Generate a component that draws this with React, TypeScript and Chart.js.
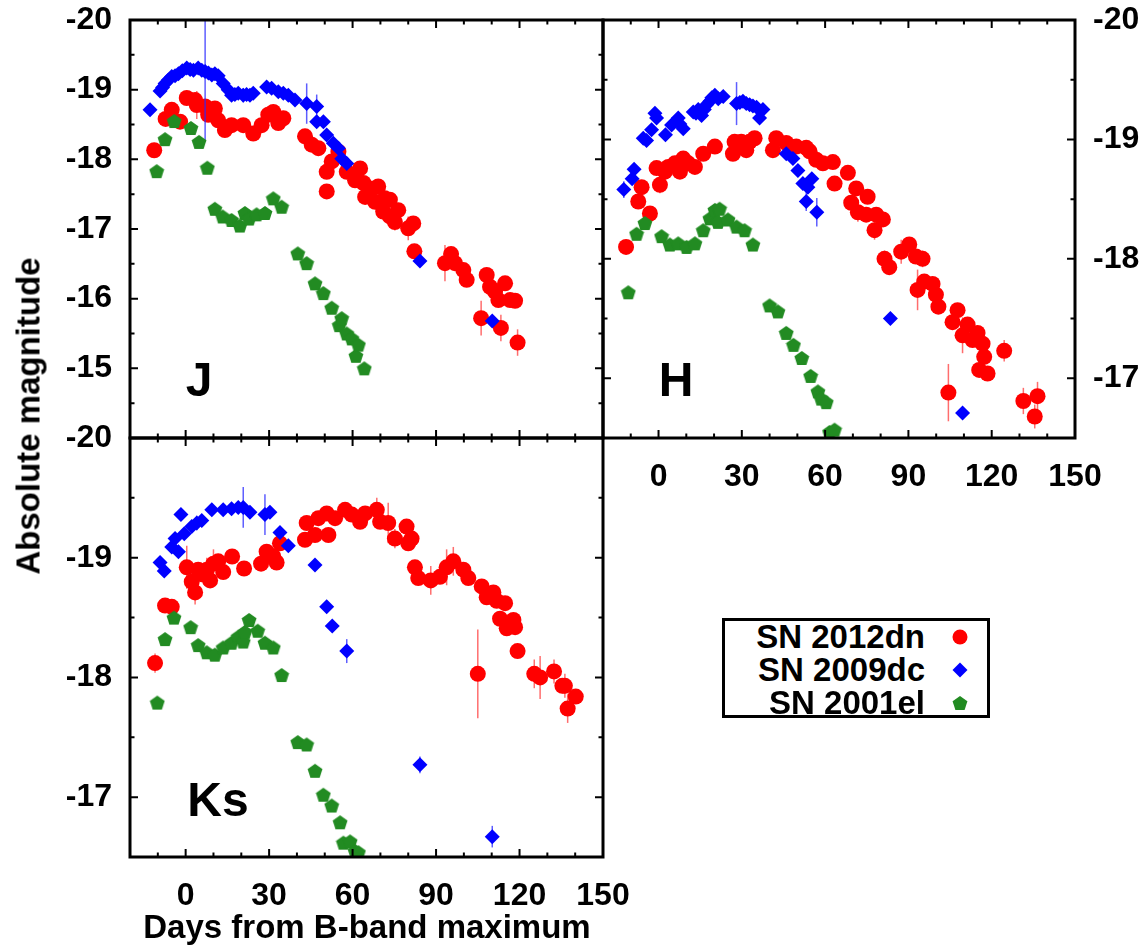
import React, { useEffect, useRef } from "react";
import { Chart, registerables } from "chart.js";
Chart.register(...registerables);

type P = [number, number, number?];

// ---------------- data ----------------
const dayTicks = [0, 30, 60, 90, 120, 150];
const jMagTicks = [-20, -19, -18, -17, -16, -15];
const hMagTicks = [-20, -19, -18, -17];
const kMagTicks = [-20, -19, -18, -17];

const seriesNames = ["SN 2012dn", "SN 2009dc", "SN 2001el"];

// J band  [day, absolute magnitude, error]
const jRed: P[] = [
  [-11.3, -18.13], [-7.2, -18.58, 0.1], [-5.0, -18.71], [-2.0, -18.54], [0.4, -18.88], [3.4, -18.85],
  [4.0, -18.78, 0.2], [7.0, -18.76], [8.1, -18.64], [10.5, -18.73], [11.7, -18.56], [14.1, -18.42],
  [16.5, -18.49], [20.7, -18.49], [24.3, -18.37], [27.3, -18.49], [29.7, -18.64], [31.5, -18.68],
  [33.3, -18.52], [35.1, -18.59], [42.9, -18.33], [45.3, -18.21], [47.7, -18.16], [50.7, -17.82],
  [50.7, -17.54, 0.1], [52.5, -17.97], [54.9, -18.11], [57.9, -17.82], [60.9, -17.7], [62.7, -17.87],
  [63.9, -17.66], [64.5, -17.46], [66.3, -17.58], [68.1, -17.39], [69.2, -17.61], [71.0, -17.25],
  [71.6, -17.44], [73.4, -17.42], [73.4, -17.18, 0.15], [75.2, -17.1, 0.12], [76.4, -17.27],
  [80.0, -17.01, 0.17], [81.8, -17.08, 0.1], [82.2, -16.68, 0.08], [93.2, -16.51, 0.26], [95.4, -16.64, 0.1],
  [96.8, -16.51], [99.8, -16.41], [101.0, -16.27], [106.2, -15.72, 0.25], [108.2, -16.34], [109.4, -16.17],
  [111.2, -16.1, 0.1], [112.4, -15.98], [113.3, -15.58, 0.19], [114.8, -16.22], [116.6, -15.98],
  [118.4, -15.97], [119.3, -15.37, 0.19],
];
const jBlue: P[] = [
  [-12.8, -18.71], [-9.2, -18.98], [-8.3, -19.03], [-7.4, -19.09], [-6.2, -19.14], [-5.0, -19.19],
  [-3.8, -19.2], [-2.6, -19.23], [-1.2, -19.27], [0.4, -19.31], [1.6, -19.29], [2.8, -19.28, 0.05],
  [4.5, -19.31], [5.8, -19.28], [7.0, -19.26, 1.0], [8.2, -19.24], [9.4, -19.21], [10.5, -19.23],
  [11.7, -19.2], [13.5, -19.09], [15.3, -19.0], [16.5, -18.92], [17.7, -18.93], [18.9, -18.95],
  [20.7, -18.92, 0.1], [21.9, -18.93], [23.1, -18.92], [24.3, -18.95], [29.1, -19.04], [30.9, -19.02],
  [33.3, -18.97], [35.1, -18.95], [36.9, -18.92], [39.3, -18.85], [43.5, -18.8, 0.29], [47.1, -18.76, 0.17],
  [47.1, -18.54], [49.5, -18.54], [50.7, -18.35], [53.1, -18.23], [54.9, -18.16], [56.1, -18.01],
  [57.9, -17.94], [84.2, -16.54], [110.2, -15.68],
];
const jGreen: P[] = [
  [-10.4, -17.83], [-7.4, -18.29], [-4.1, -18.55], [1.9, -18.45], [4.8, -18.25], [7.8, -17.88],
  [10.5, -17.29], [13.3, -17.18], [16.5, -17.13], [19.5, -17.05], [21.3, -17.23], [22.8, -17.15],
  [25.5, -17.21], [28.5, -17.23], [31.5, -17.44], [34.5, -17.32], [40.3, -16.65], [43.5, -16.51],
  [46.5, -16.22], [49.5, -16.08], [52.5, -15.87], [55.2, -15.62], [56.1, -15.72], [57.9, -15.5],
  [59.7, -15.43], [61.2, -15.18], [62.1, -15.34], [64.2, -15.0],
];

// H band
const hRed: P[] = [
  [-11.7, -18.1], [-7.3, -18.48], [-6.1, -18.6], [-3.1, -18.38], [-0.7, -18.76], [0.5, -18.62, 0.07],
  [2.3, -18.73], [3.5, -18.77], [5.9, -18.8], [7.7, -18.73], [8.9, -18.84, 0.05], [10.7, -18.8],
  [13.1, -18.77], [16.1, -18.88], [20.3, -18.94], [26.8, -18.88], [27.4, -18.98], [29.8, -18.98],
  [31.6, -18.91], [32.8, -18.98], [34.6, -19.01], [41.2, -18.91], [42.4, -19.01], [46.0, -18.97],
  [49.6, -18.94], [53.2, -18.93], [54.4, -18.9], [56.8, -18.83], [59.2, -18.8], [62.8, -18.81],
  [63.4, -18.63], [68.2, -18.72, 0.05], [69.4, -18.47], [71.2, -18.59], [71.8, -18.39, 0.08],
  [74.8, -18.37], [75.3, -18.52], [77.8, -18.24, 0.08], [78.4, -18.37], [80.8, -18.33],
  [81.4, -18.0, 0.07], [83.1, -17.93], [87.4, -18.06, 0.1], [90.3, -18.12], [92.7, -18.02],
  [93.3, -17.74, 0.17], [95.1, -18.0, 0.07], [95.7, -17.81], [98.7, -17.79], [99.9, -17.7],
  [100.8, -17.6], [104.4, -16.88, 0.24], [105.9, -17.47], [107.7, -17.57], [109.5, -17.36, 0.15],
  [111.3, -17.45], [113.1, -17.32], [114.9, -17.38], [115.5, -17.07], [116.7, -17.29], [117.3, -17.18],
  [118.5, -17.04], [124.5, -17.23, 0.09], [131.4, -16.81, 0.11], [135.5, -16.68, 0.1], [136.5, -16.85, 0.12],
];
const hBlue: P[] = [
  [-12.5, -18.58, 0.07], [-9.5, -18.67], [-8.8, -18.75], [-5.5, -19.01], [-4.3, -18.99], [-2.5, -19.08],
  [-1.3, -19.22], [-0.7, -19.18], [2.5, -19.04], [4.7, -19.12], [7.1, -19.18], [7.7, -19.13, 0.05],
  [8.9, -19.09], [12.5, -19.23], [13.5, -19.22], [14.3, -19.25], [15.5, -19.2], [16.5, -19.25],
  [17.3, -19.29], [18.5, -19.32], [19.2, -19.35], [20.3, -19.37], [21.5, -19.34], [23.3, -19.36],
  [28.1, -19.3, 0.18], [29.3, -19.31], [30.4, -19.32], [31.6, -19.3], [32.8, -19.29], [34.0, -19.28],
  [35.3, -19.27], [36.4, -19.18], [37.6, -19.25], [46.0, -18.88], [48.4, -18.84], [50.2, -18.74],
  [52.0, -18.63, 0.05], [53.2, -18.48, 0.08], [53.8, -18.6], [55.2, -18.67], [57.0, -18.39, 0.12],
  [83.5, -17.5], [109.5, -16.71],
];
const hGreen: P[] = [
  [-10.9, -17.72], [-7.9, -18.21], [-4.9, -18.3], [1.1, -18.19], [4.1, -18.12], [7.1, -18.13],
  [10.1, -18.1], [13.1, -18.13], [16.1, -18.24], [18.5, -18.34], [20.3, -18.41], [21.4, -18.31],
  [22.0, -18.42], [25.0, -18.33], [28.1, -18.27], [31.0, -18.24], [34.0, -18.12], [40.0, -17.61],
  [43.0, -17.56], [46.0, -17.38], [48.6, -17.28], [51.6, -17.17], [54.8, -17.02], [57.4, -16.89],
  [58.6, -16.83], [60.4, -16.8], [61.6, -16.55], [63.4, -16.57],
];

// Ks band
const kRed: P[] = [
  [-11.0, -18.12, 0.08], [-7.4, -18.6], [-5.0, -18.59], [0.4, -18.92, 0.18], [2.2, -18.8], [3.4, -18.71, 0.1],
  [4.5, -18.9], [6.3, -18.86], [7.6, -18.9, 0.1], [8.8, -18.81], [10.0, -18.95, 0.12], [11.7, -18.97],
  [13.5, -18.88], [16.7, -19.01], [21.0, -18.91], [27.1, -18.95], [29.1, -19.05], [31.5, -19.01],
  [32.7, -18.96], [33.9, -19.12], [42.9, -19.15], [43.5, -19.29], [46.5, -19.19], [47.7, -19.33],
  [50.7, -19.37], [51.3, -19.19], [53.7, -19.33], [57.3, -19.4], [59.7, -19.36], [62.7, -19.3],
  [64.5, -19.37], [68.7, -19.4, 0.1], [69.9, -19.3], [72.8, -19.29, 0.17], [75.2, -19.16, 0.08],
  [79.4, -19.26], [80.0, -19.12], [81.2, -19.16], [82.4, -18.92], [83.6, -18.83], [88.1, -18.81, 0.12],
  [91.4, -18.84], [93.8, -18.92, 0.15], [96.2, -18.97, 0.12], [99.8, -18.9], [101.6, -18.83],
  [105.0, -18.03, 0.37], [106.4, -18.76], [108.2, -18.67], [110.6, -18.71], [111.8, -18.64], [113.0, -18.49],
  [114.8, -18.62], [115.4, -18.41], [117.8, -18.48], [118.4, -18.42], [119.3, -18.22], [125.3, -18.03, 0.12],
  [127.4, -18.0, 0.18], [132.4, -18.05, 0.1], [135.4, -17.93], [136.3, -17.93, 0.1], [137.3, -17.74, 0.12],
  [140.2, -17.84],
];
const kBlue: P[] = [
  [-9.2, -18.96], [-7.7, -18.89], [-5.0, -19.09], [-3.8, -19.16], [-2.6, -19.05], [-1.7, -19.36],
  [-0.5, -19.2], [2.2, -19.26], [4.0, -19.29, 0.06], [5.8, -19.31], [9.4, -19.4], [13.5, -19.4],
  [16.5, -19.41], [18.9, -19.42], [20.7, -19.42, 0.17], [23.1, -19.38], [28.5, -19.36, 0.17],
  [30.3, -19.38], [33.9, -19.21], [36.9, -19.1], [46.5, -18.94], [50.7, -18.59], [52.7, -18.43],
  [57.9, -18.22, 0.1], [84.2, -17.27, 0.07], [110.2, -16.67, 0.09],
];
const kGreen: P[] = [
  [-10.2, -17.79], [-7.4, -18.32], [-4.2, -18.5], [1.8, -18.42], [4.5, -18.27], [7.6, -18.21],
  [10.5, -18.19], [13.5, -18.25], [16.5, -18.29], [18.9, -18.34], [20.7, -18.3], [21.3, -18.38],
  [22.8, -18.48], [25.9, -18.39], [28.5, -18.29], [31.5, -18.25], [34.5, -18.02], [40.3, -17.46],
  [43.5, -17.44], [46.5, -17.22], [49.5, -17.02], [52.5, -16.93], [55.5, -16.79], [56.7, -16.62],
  [59.1, -16.63], [60.9, -16.55], [62.1, -16.54],
];

// ---------------- styling ----------------
const W = 1146;
const H = 945;
const FONT = "'Liberation Sans', Arial, Helvetica, sans-serif";
const RED = "#ff0000";
const BLUE = "#0000ff";
const GREEN = "#228b22";

function pentagonImage(): HTMLCanvasElement {
  const c = document.createElement("canvas");
  c.width = 16;
  c.height = 16;
  const g = c.getContext("2d")!;
  g.fillStyle = GREEN;
  g.beginPath();
  const r = 7.8, cx = 8, cy = 8.7;
  for (let i = 0; i < 5; i++) {
    const a = -Math.PI / 2 + (i * 2 * Math.PI) / 5;
    const x = cx + r * Math.cos(a);
    const y = cy + r * Math.sin(a);
    if (i === 0) g.moveTo(x, y);
    else g.lineTo(x, y);
  }
  g.closePath();
  g.fill();
  return c;
}

const errorBarsPlugin = {
  id: "errorBars",
  beforeDatasetDraw(chart: any, args: any) {
    const ds = chart.data.datasets[args.index];
    const errs: number[] = ds.errs;
    if (!errs) return;
    const { ctx, chartArea: a } = chart;
    const xs = chart.scales.x;
    const ys = chart.scales.y;
    ctx.save();
    ctx.beginPath();
    ctx.rect(a.left, a.top, a.right - a.left, a.bottom - a.top);
    ctx.clip();
    ctx.strokeStyle = ds.errColor;
    ctx.lineWidth = 1.5;
    ds.data.forEach((p: any, i: number) => {
      const e = errs[i];
      if (!e) return;
      const x = xs.getPixelForValue(p.x);
      ctx.beginPath();
      ctx.moveTo(x, ys.getPixelForValue(p.y - e));
      ctx.lineTo(x, ys.getPixelForValue(p.y + e));
      ctx.stroke();
    });
    ctx.restore();
  },
};

const framePlugin = {
  id: "frame",
  afterDraw(chart: any) {
    const { ctx, chartArea: a } = chart;
    const xs = chart.scales.x;
    const ys = chart.scales.y;
    ctx.save();
    ctx.strokeStyle = "#000";
    ctx.lineWidth = 2;
    ctx.beginPath();
    for (let d = xs.min; d <= xs.max + 1e-6; d += 10) {
      const x = xs.getPixelForValue(d);
      const L = Math.round(d) % 30 === 0 ? 8 : 4.5;
      ctx.moveTo(x, a.top);
      ctx.lineTo(x, a.top + L);
      ctx.moveTo(x, a.bottom);
      ctx.lineTo(x, a.bottom - L);
    }
    for (let m = ys.min; m <= ys.max + 1e-6; m += 0.5) {
      const y = ys.getPixelForValue(m);
      const L = Math.abs(m - Math.round(m)) < 1e-6 ? 8 : 4.5;
      ctx.moveTo(a.left, y);
      ctx.lineTo(a.left + L, y);
      ctx.moveTo(a.right, y);
      ctx.lineTo(a.right - L, y);
    }
    ctx.stroke();
    ctx.lineWidth = 3;
    ctx.strokeRect(a.left, a.top, a.right - a.left, a.bottom - a.top);
    ctx.restore();
  },
};

interface PanelCfg {
  red: P[];
  blue: P[];
  green: P[];
  yMin: number;
  yMax: number;
  yTicks: number[];
  yPos: "left" | "right";
  yWidth: number;
  showX: boolean;
  xHeight: number;
  padding: { left: number; top: number; right: number; bottom: number };
}

function zeroPad(s: any) {
  s.paddingTop = 0;
  s.paddingBottom = 0;
  s.paddingLeft = 0;
  s.paddingRight = 0;
}

function makeChart(canvas: HTMLCanvasElement, c: PanelCfg, pent: HTMLCanvasElement) {
  const tickFont = { family: FONT, size: 32, weight: "bold" as const };
  const ds = (arr: P[], label: string, color: string, errColor: string, style: any, radius: number, order: number) => ({
    label,
    data: arr.map((p) => ({ x: p[0], y: p[1] })),
    errs: arr.map((p) => p[2] || 0),
    errColor,
    pointStyle: style,
    pointRadius: radius,
    backgroundColor: color,
    borderColor: color,
    borderWidth: 0,
    showLine: false,
    clip: 0,
    order,
  });
  return new Chart(canvas, {
    type: "scatter",
    data: {
      datasets: [
        ds(c.red, seriesNames[0], RED, "rgba(255,60,60,0.75)", "circle", 8, 3),
        ds(c.blue, seriesNames[1], BLUE, "rgba(40,40,255,0.75)", "rectRot", 7.5, 2),
        ds(c.green, seriesNames[2], GREEN, "rgba(34,139,34,0.75)", pent, 7.5, 1),
      ] as any,
    },
    options: {
      animation: false,
      responsive: false,
      devicePixelRatio: 1,
      events: [],
      layout: { padding: c.padding, autoPadding: false },
      plugins: { legend: { display: false }, tooltip: { enabled: false } },
      scales: {
        x: {
          type: "linear",
          min: -20,
          max: 150,
          display: c.showX,
          position: "bottom",
          grid: { display: false, drawTicks: false },
          border: { display: false },
          afterBuildTicks: (s: any) => {
            s.ticks = dayTicks.map((v) => ({ value: v }));
          },
          afterFit: (s: any) => {
            s.height = c.xHeight;
            zeroPad(s);
          },
          ticks: {
            font: tickFont,
            color: "#000",
            padding: 20,
            autoSkip: false,
            maxRotation: 0,
            callback: (v: any) => String(v),
          },
        },
        y: {
          type: "linear",
          min: c.yMin,
          max: c.yMax,
          reverse: true,
          position: c.yPos,
          grid: { display: false, drawTicks: false },
          border: { display: false },
          afterBuildTicks: (s: any) => {
            s.ticks = c.yTicks.map((v) => ({ value: v }));
          },
          afterFit: (s: any) => {
            s.width = c.yWidth;
            zeroPad(s);
          },
          ticks: {
            font: tickFont,
            color: "#000",
            padding: 18,
            autoSkip: false,
            callback: (v: any) => String(v),
          },
        },
      },
    } as any,
    plugins: [errorBarsPlugin, framePlugin],
  });
}

const abs: React.CSSProperties = { position: "absolute" };

function LegendSymbol({ kind }: { kind: number }) {
  const svgStyle: React.CSSProperties = { display: "block" };
  if (kind === 0)
    return (
      <svg width="18" height="18" viewBox="0 0 18 18" style={svgStyle}>
        <circle cx="9" cy="9" r="7.5" fill={RED} />
      </svg>
    );
  if (kind === 1)
    return (
      <svg width="18" height="18" viewBox="0 0 18 18" style={svgStyle}>
        <polygon points="9,1.5 16.5,9 9,16.5 1.5,9" fill={BLUE} />
      </svg>
    );
  const pts: string[] = [];
  for (let i = 0; i < 5; i++) {
    const a = -Math.PI / 2 + (i * 2 * Math.PI) / 5;
    pts.push(`${(9 + 7.8 * Math.cos(a)).toFixed(2)},${(9.7 + 7.8 * Math.sin(a)).toFixed(2)}`);
  }
  return (
    <svg width="18" height="18" viewBox="0 0 18 18" style={svgStyle}>
      <polygon points={pts.join(" ")} fill={GREEN} />
    </svg>
  );
}

export default function App() {
  const jRef = useRef<HTMLCanvasElement>(null);
  const hRef = useRef<HTMLCanvasElement>(null);
  const kRef = useRef<HTMLCanvasElement>(null);

  useEffect(() => {
    const pent = pentagonImage();
    const charts = [
      makeChart(jRef.current!, {
        red: jRed, blue: jBlue, green: jGreen,
        yMin: -20, yMax: -14, yTicks: jMagTicks, yPos: "left", yWidth: 130,
        showX: false, xHeight: 0,
        padding: { left: 0, top: 20, right: W - 603, bottom: H - 438 },
      }, pent),
      makeChart(hRef.current!, {
        red: hRed, blue: hBlue, green: hGreen,
        yMin: -20, yMax: -16.5, yTicks: hMagTicks, yPos: "right", yWidth: W - 1075,
        showX: true, xHeight: H - 438,
        padding: { left: 603, top: 20, right: 0, bottom: 0 },
      }, pent),
      makeChart(kRef.current!, {
        red: kRed, blue: kBlue, green: kGreen,
        yMin: -20, yMax: -16.5, yTicks: kMagTicks, yPos: "left", yWidth: 130,
        showX: true, xHeight: H - 857,
        padding: { left: 0, top: 438, right: W - 603, bottom: 0 },
      }, pent),
    ];
    return () => charts.forEach((ch) => ch.destroy());
  }, []);

  const canvasStyle: React.CSSProperties = { ...abs, left: 0, top: 0, width: W, height: H };
  const bold: React.CSSProperties = { fontFamily: FONT, fontWeight: "bold", color: "#000", whiteSpace: "nowrap", lineHeight: 1 };

  return (
    <div style={{ position: "absolute", left: 0, top: 0, width: W, height: H, background: "#fff", overflow: "hidden" }}>
      <canvas ref={hRef} width={W} height={H} style={canvasStyle} />
      <canvas ref={kRef} width={W} height={H} style={canvasStyle} />
      <canvas ref={jRef} width={W} height={H} style={canvasStyle} />

      <div style={{ ...abs, ...bold, fontSize: 48, left: 199, top: 380, transform: "translate(-50%, -50%)" }}>J</div>
      <div style={{ ...abs, ...bold, fontSize: 48, left: 676, top: 380, transform: "translate(-50%, -50%)" }}>H</div>
      <div style={{ ...abs, ...bold, fontSize: 48, left: 218, top: 800, transform: "translate(-50%, -50%)" }}>Ks</div>

      <div style={{ ...abs, ...bold, fontSize: 33, left: 28, top: 416, transform: "translate(-50%, -50%) rotate(-90deg)" }}>
        Absolute magnitude
      </div>
      <div style={{ ...abs, ...bold, fontSize: 33, left: 367, top: 926, transform: "translate(-50%, -50%)" }}>
        Days from B-band maximum
      </div>

      <div style={{ ...abs, left: 722, top: 618, width: 268, height: 100, border: "3px solid #000", boxSizing: "border-box", background: "#fff" }}>
        {seriesNames.map((n, i) => (
          <div key={n} style={{ ...abs, left: 0, top: i * 33, height: 32, width: 200, ...bold, fontSize: 33, textAlign: "right", lineHeight: "32px" }}>
            {n}
            <div style={{ ...abs, left: 226, top: 7 }}>
              <LegendSymbol kind={i} />
            </div>
          </div>
        ))}
      </div>
    </div>
  );
}
